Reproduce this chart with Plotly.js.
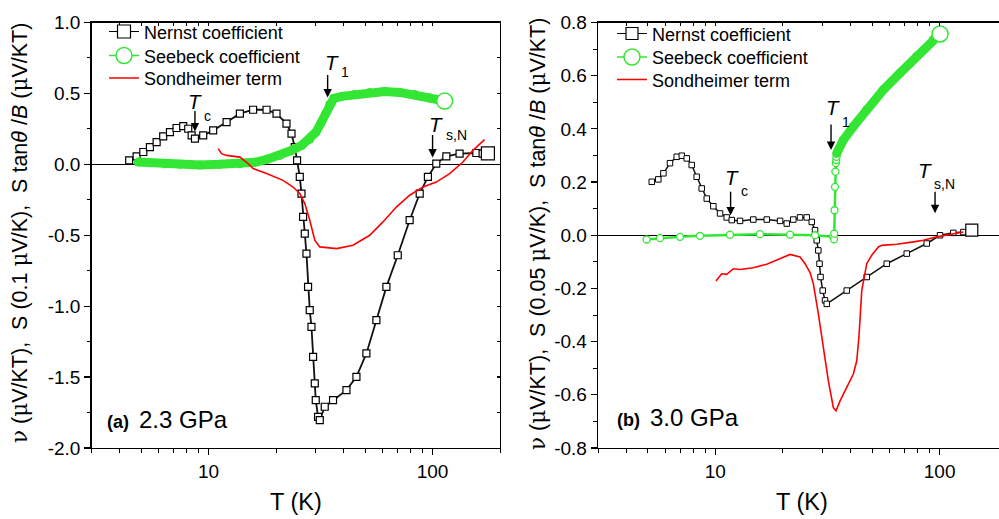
<!DOCTYPE html>
<html>
<head>
<meta charset="utf-8">
<script src="https://cdn.plot.ly/plotly-3.0.1.min.js"></script>
<style>html,body{margin:0;padding:0;background:#fff;} #chart{width:999px;height:519px;}</style>
</head>
<body>
<div id="chart"></div>
<script>
// ---------- Panel (a) 2.3 GPa ----------
const nernstA_T = [4.42, 4.77, 5.11, 5.47, 5.86, 6.27, 6.72, 7.19, 7.70, 8.11, 8.40, 8.69, 9.46, 10.48, 12.03, 13.79, 15.80, 18.14, 20.10, 22.27, 23.45, 24.25, 24.83, 25.53, 25.98, 26.41, 26.88, 27.35, 27.80, 28.29, 28.79, 29.27, 29.79, 30.09, 30.81, 31.36, 33.0, 35.94, 41.25, 45.71, 50.65, 56.12, 62.2, 69.9, 79.0, 87.6, 95.3, 103.9, 115.2, 132.0, 156.8, 167.2, 176.6];
const nernstA_v = [0.028, 0.056, 0.087, 0.122, 0.157, 0.197, 0.227, 0.256, 0.27, 0.251, 0.204, 0.181, 0.204, 0.239, 0.298, 0.357, 0.385, 0.385, 0.357, 0.287, 0.216, 0.122, 0.028, -0.089, -0.206, -0.371, -0.488, -0.629, -0.864, -1.028, -1.146, -1.357, -1.544, -1.662, -1.78, -1.803, -1.709, -1.662, -1.592, -1.498, -1.333, -1.099, -0.864, -0.641, -0.394, -0.206, -0.089, 0.005, 0.056, 0.075, 0.08, 0.075, 0.077];

const seebeckA_T = [4.85, 5.47, 6.38, 7.44, 9.14, 11.22, 13.79, 16.08, 18.19, 20.79, 23.52, 26.06, 28.29, 30.09, 31.67, 33.34, 34.74, 36.2, 39.29, 44.92, 52.4, 61.1, 71.3, 83.2, 97.0, 113.2];
const seebeckA_v = [0.016, 0.011, 0.004, 0.0, -0.004, 0.0, 0.004, 0.014, 0.035, 0.063, 0.099, 0.134, 0.176, 0.225, 0.289, 0.359, 0.423, 0.465, 0.479, 0.493, 0.507, 0.514, 0.507, 0.493, 0.468, 0.446];

const sondA_T = [11.03, 11.42, 12.03, 13.79, 15.02, 15.80, 18.14, 21.50, 23.84, 25.53, 26.88, 28.29, 29.79, 31.36, 37.22, 44.14, 52.4, 60.05, 68.9, 79.0, 90.6, 103.9, 119.2, 136.6, 151.4, 170.7];
const sondA_v = [0.111, 0.075, 0.063, 0.051, 0.005, -0.03, -0.065, -0.113, -0.16, -0.206, -0.277, -0.394, -0.535, -0.582, -0.594, -0.57, -0.5, -0.406, -0.301, -0.218, -0.16, -0.125, -0.065, 0.016, 0.099, 0.174];

// ---------- Panel (b) 3.0 GPa ----------
const nernstB_T = [5.21, 5.57, 5.87, 6.28, 6.73, 7.09, 7.46, 7.85, 8.26, 8.70, 9.16, 9.80, 10.50, 11.24, 11.84, 12.89, 14.77, 16.96, 19.44, 20.82, 22.27, 23.86, 25.56, 26.91, 27.83, 28.32, 28.79, 29.15, 29.45, 30.12, 30.84, 31.39, 38.54, 47.32, 58.10, 71.35, 87.6, 100.4, 115.1, 127.6, 139.1];
const nernstB_v = [0.201, 0.21, 0.233, 0.271, 0.295, 0.299, 0.289, 0.264, 0.22, 0.176, 0.138, 0.109, 0.082, 0.067, 0.057, 0.054, 0.059, 0.059, 0.054, 0.044, 0.059, 0.067, 0.067, 0.05, 0.019, -0.019, -0.057, -0.107, -0.157, -0.208, -0.245, -0.258, -0.208, -0.157, -0.107, -0.069, -0.031, 0.0, 0.009, 0.012, 0.019];

const seebeckB_T = [4.94, 5.67, 6.96, 8.55, 11.63, 15.82, 21.53, 27.83, 33.48, 33.82, 33.9, 34.0, 34.17, 34.3, 34.45, 34.6, 34.71, 34.78, 37.21, 41.24, 47.32, 56.11, 66.6, 79.1, 93.8, 100.4];
const seebeckB_v = [-0.016, -0.011, -0.006, -0.002, 0.002, 0.004, 0.002, 0.0, -0.006, -0.015, 0.006, 0.094, 0.182, 0.239, 0.271, 0.283, 0.295, 0.308, 0.358, 0.409, 0.472, 0.547, 0.61, 0.673, 0.736, 0.757];

const sondB_T = [10.07, 10.68, 11.24, 12.03, 12.89, 14.77, 16.96, 18.79, 21.53, 23.86, 25.12, 26.44, 27.35, 28.79, 30.31, 31.9, 33.58, 34.53, 35.98, 38.54, 41.24, 42.71, 43.72, 44.96, 47.32, 49.81, 53.33, 55.2, 64.4, 76.4, 84.6, 97.1, 115.1, 127.6];
const sondB_v = [-0.172, -0.145, -0.147, -0.126, -0.129, -0.122, -0.109, -0.094, -0.072, -0.082, -0.107, -0.14, -0.182, -0.295, -0.422, -0.547, -0.648, -0.66, -0.623, -0.572, -0.522, -0.472, -0.377, -0.208, -0.107, -0.075, -0.044, -0.038, -0.034, -0.025, -0.019, -0.006, 0.006, 0.012];

// Labels
const seriesNames = ['Nernst coefficient', 'Seebeck coefficient', 'Sondheimer term'];
const xTickVals = [10, 100];
const xMinorVals = [3, 4, 5, 6, 7, 8, 9, 20, 30, 40, 50, 60, 70, 80, 90, 200];
const yTicksA = [-2.0, -1.5, -1.0, -0.5, 0.0, 0.5, 1.0];
const yTicksB = [-0.8, -0.6, -0.4, -0.2, 0.0, 0.2, 0.4, 0.6, 0.8];
const markersA = [ // [label, subscript, T, value]
  ['T', 'c', 8.69, 0.232], ['T', '1', 34.0, 0.472], ['T', 's,N', 100, 0.049]
];
const markersB = [
  ['T', 'c', 11.7, 0.075], ['T', '1', 32.8, 0.321], ['T', 's,N', 95.4, 0.083]
];

const BLACK = '#000000', GREEN = '#33e633', RED = '#ff0000';
const FONT = 'Arial, "Liberation Sans", sans-serif';
const last = a => [a[a.length - 1]];

// split index for panel b Seebeck (jump at T1)
const kB = seebeckB_T.findIndex(t => t >= 34.78);

// one legend per entry so that the rows sit exactly as in the figure
const legA = ['legend', 'legend3', 'legend4'];
const legB = ['legend2', 'legend5', 'legend6'];

const traces = [
  // panel a
  {x: nernstA_T, y: nernstA_v, xaxis: 'x', yaxis: 'y', mode: 'lines+markers', showlegend: false,
   line: {color: '#111', width: 1.8}, marker: {symbol: 'square', size: 7, color: '#fff', line: {color: BLACK, width: 1.2}}},
  {x: seebeckA_T, y: seebeckA_v, xaxis: 'x', yaxis: 'y', mode: 'lines+markers', showlegend: false,
   line: {color: GREEN, width: 9}, marker: {symbol: 'circle', size: 9, color: GREEN}},
  {x: sondA_T, y: sondA_v, xaxis: 'x', yaxis: 'y', mode: 'lines', name: seriesNames[2], legend: legA[2],
   line: {color: RED, width: 1.6}},
  {x: last(nernstA_T), y: last(nernstA_v), xaxis: 'x', yaxis: 'y', mode: 'lines+markers', name: seriesNames[0], legend: legA[0],
   line: {color: BLACK, width: 1.2}, marker: {symbol: 'square', size: 13, color: '#fff', line: {color: BLACK, width: 1.2}}},
  {x: last(seebeckA_T), y: last(seebeckA_v), xaxis: 'x', yaxis: 'y', mode: 'lines+markers', name: seriesNames[1], legend: legA[1],
   line: {color: GREEN, width: 1.5}, marker: {symbol: 'circle', size: 16, color: '#fff', line: {color: GREEN, width: 1.5}}},
  // panel b
  {x: nernstB_T, y: nernstB_v, xaxis: 'x2', yaxis: 'y2', mode: 'lines+markers', showlegend: false,
   line: {color: '#111', width: 1.5}, marker: {symbol: 'square', size: 5.5, color: '#fff', line: {color: BLACK, width: 1}}},
  {x: seebeckB_T.slice(0, kB + 1), y: seebeckB_v.slice(0, kB + 1), xaxis: 'x2', yaxis: 'y2', mode: 'lines+markers', showlegend: false,
   line: {color: GREEN, width: 2.5}, marker: {symbol: 'circle', size: 7, color: '#fff', line: {color: GREEN, width: 1.3}}},
  {x: seebeckB_T.slice(kB), y: seebeckB_v.slice(kB), xaxis: 'x2', yaxis: 'y2', mode: 'lines+markers', showlegend: false,
   line: {color: GREEN, width: 9}, marker: {symbol: 'circle', size: 9, color: GREEN}},
  {x: sondB_T, y: sondB_v, xaxis: 'x2', yaxis: 'y2', mode: 'lines', name: seriesNames[2], legend: legB[2],
   line: {color: RED, width: 1.6}},
  {x: last(nernstB_T), y: last(nernstB_v), xaxis: 'x2', yaxis: 'y2', mode: 'lines+markers', name: seriesNames[0], legend: legB[0],
   line: {color: BLACK, width: 1.2}, marker: {symbol: 'square', size: 12, color: '#fff', line: {color: BLACK, width: 1.2}}},
  {x: last(seebeckB_T), y: last(seebeckB_v), xaxis: 'x2', yaxis: 'y2', mode: 'lines+markers', name: seriesNames[1], legend: legB[1],
   line: {color: GREEN, width: 1.5}, marker: {symbol: 'circle', size: 16, color: '#fff', line: {color: GREEN, width: 1.5}}},
  // helper traces for mirrored (inward) tick axes
  {x: [], y: [], xaxis: 'x3', yaxis: 'y', showlegend: false, hoverinfo: 'skip'},
  {x: [], y: [], xaxis: 'x', yaxis: 'y3', showlegend: false, hoverinfo: 'skip'},
  {x: [], y: [], xaxis: 'x4', yaxis: 'y2', showlegend: false, hoverinfo: 'skip'}
];

const W = 999, H = 519;
const xDomA = [91.5 / W, 500 / W];
const xDomB = [598 / W, 1];
const yDom = [1 - 448 / H, 1 - 22.5 / H];
const xRangeA = [Math.log10(3), Math.log10(200)];
const xRangeB = [Math.log10(3), 2.2646];

function xAxis(domain, range, anchor, extra) {
  return Object.assign({
    type: 'log', domain: domain, range: range, anchor: anchor, autorange: false,
    showline: true, linecolor: BLACK, linewidth: 1.3, ticks: 'outside', ticklen: 6, tickwidth: 1.2, tickcolor: BLACK,
    tickvals: xTickVals, ticktext: xTickVals.map(String), showgrid: false, zeroline: false,
    tickfont: {family: FONT, size: 19, color: BLACK},
    minor: {tickvals: xMinorVals, ticks: 'outside', ticklen: 3.5, tickwidth: 1, tickcolor: BLACK, showgrid: false}
  }, extra || {});
}
function yAxis(range, ticks, minorStep, anchor, extra) {
  const minor = [];
  for (let v = range[0]; v <= range[1] + 1e-9; v += minorStep) minor.push(+v.toFixed(3));
  return Object.assign({
    domain: yDom, range: range, anchor: anchor, autorange: false,
    showline: true, linecolor: BLACK, linewidth: 1.3, ticks: 'outside', ticklen: 6, tickwidth: 1.2, tickcolor: BLACK,
    tickvals: ticks, ticktext: ticks.map(v => v.toFixed(1)), showgrid: false,
    zeroline: true, zerolinecolor: BLACK, zerolinewidth: 1.3,
    tickfont: {family: FONT, size: 19, color: BLACK},
    minor: {tickvals: minor, ticks: 'outside', ticklen: 3.5, tickwidth: 1, tickcolor: BLACK, showgrid: false}
  }, extra || {});
}

const mirrorX = {side: 'top', ticks: 'inside', showticklabels: false, ticklen: 3.5, minor: {tickvals: xMinorVals, ticks: 'inside', ticklen: 3.5, tickwidth: 1, tickcolor: BLACK}};

function legendAt(xPx, rowCenterPx) {
  const fs = 18;
  const top = rowCenterPx - (fs * 1.3 + 3) / 2 - 6.5;
  return {x: xPx / W, y: 1 - top / H, xanchor: 'left', yanchor: 'top',
    bgcolor: 'rgba(0,0,0,0)', borderwidth: 0, font: {family: FONT, size: fs, color: BLACK}, itemsizing: 'trace'};
}

const layout = {
  width: W, height: H, margin: {l: 0, r: 0, t: 0, b: 0},
  paper_bgcolor: '#fff', plot_bgcolor: 'rgba(0,0,0,0)',
  font: {family: FONT, color: BLACK},
  xaxis: xAxis(xDomA, xRangeA, 'y'),
  yaxis: yAxis([-2, 1], yTicksA, 0.25, 'x'),
  xaxis2: xAxis(xDomB, xRangeB, 'y2'),
  yaxis2: yAxis([-0.8, 0.8], yTicksB, 0.1, 'x2'),
  xaxis3: xAxis(xDomA, xRangeA, 'y', Object.assign({overlaying: 'x'}, mirrorX)),
  xaxis4: xAxis(xDomB, xRangeB, 'y2', Object.assign({overlaying: 'x2'}, mirrorX)),
  yaxis3: yAxis([-2, 1], yTicksA, 0.25, 'x', {overlaying: 'y', side: 'right', ticks: 'inside', ticklen: 3.5, showticklabels: false, zeroline: false,
    minor: {tickvals: [-1.75, -1.25, -0.75, -0.25, 0.25, 0.75], ticks: 'inside', ticklen: 3.5, tickwidth: 1, tickcolor: BLACK}}),
  showlegend: true,
  legend: legendAt(104, 33),
  legend3: legendAt(104, 57),
  legend4: legendAt(104, 79.5),
  legend2: legendAt(612, 35),
  legend5: legendAt(612, 58.5),
  legend6: legendAt(612, 81),
  annotations: []
};

const ann = layout.annotations;
// axis titles
const SERIF = s => '<span style="font-family:\'DejaVu Serif\'">' + s + '</span>';
const yTitleA = SERIF('ν') + ' (' + SERIF('μ') + 'V/KT),  S (0.1 ' + SERIF('μ') + 'V/K),  S tan<i>θ</i> /<i>B</i> (' + SERIF('μ') + 'V/KT)';
const yTitleB = SERIF('ν') + ' (' + SERIF('μ') + 'V/KT),  S (0.05 ' + SERIF('μ') + 'V/K),  S tan<i>θ</i> /<i>B</i> (' + SERIF('μ') + 'V/KT)';
ann.push({xref: 'paper', yref: 'paper', x: 19 / W, y: 1 - 233 / H, text: yTitleA, textangle: -90, showarrow: false,
  xanchor: 'center', yanchor: 'middle', font: {family: FONT, size: 21.5, color: BLACK}});
ann.push({xref: 'paper', yref: 'paper', x: 537 / W, y: 1 - 234 / H, text: yTitleB, textangle: -90, showarrow: false,
  xanchor: 'center', yanchor: 'middle', font: {family: FONT, size: 21.5, color: BLACK}});
ann.push({xref: 'paper', yref: 'paper', x: 296 / W, y: 1 - 502 / H, text: 'T (K)', showarrow: false,
  xanchor: 'center', yanchor: 'middle', font: {family: FONT, size: 23.5, color: BLACK}});
ann.push({xref: 'paper', yref: 'paper', x: 802 / W, y: 1 - 502 / H, text: 'T (K)', showarrow: false,
  xanchor: 'center', yanchor: 'middle', font: {family: FONT, size: 23.5, color: BLACK}});
// panel labels
ann.push({xref: 'paper', yref: 'paper', x: 105 / W, y: 1 - 419 / H, xanchor: 'left', yanchor: 'middle', showarrow: false,
  text: '<b>(a)</b>  <span style="font-size:24px">2.3 GPa</span>', font: {family: FONT, size: 18, color: BLACK}});
ann.push({xref: 'paper', yref: 'paper', x: 615 / W, y: 1 - 417 / H, xanchor: 'left', yanchor: 'middle', showarrow: false,
  text: '<b>(b)</b>  <span style="font-size:24px">3.0 GPa</span>', font: {family: FONT, size: 18, color: BLACK}});

// transition markers: [arrow tail offset, T centre offset (dx, up), subscript left edge dx, subscript centre up]
const offA = [[-22, [0, 30], 7.5, 15.5], [-24, [4.5, 34.5], 11.5, 25], [-24, [3.5, 32.5], 11, 22]];
const offB = [[-25, [1, 38], 8.5, 24.2], [-27, [1.5, 42.5], 8.5, 28.3], [-23, [-10, 43], -3, 29.5]];
function addMarkers(list, offs, xr, yr) {
  list.forEach((m, i) => {
    const o = offs[i];
    const X = Math.log10(m[2]), Y = m[3];
    ann.push({xref: xr, yref: yr, x: X, y: Y, ax: 0, ay: o[0], text: '', showarrow: true,
      arrowhead: 2, arrowsize: 1.2, arrowwidth: 1.4, arrowcolor: BLACK, standoff: 0});
    ann.push({xref: xr, yref: yr, x: X, y: Y, xshift: o[1][0], yshift: o[1][1], text: '<i>' + m[0] + '</i>', showarrow: false,
      xanchor: 'center', yanchor: 'middle', font: {family: FONT, size: 20.5, color: BLACK}});
    ann.push({xref: xr, yref: yr, x: X, y: Y, xshift: o[2], yshift: o[3], text: m[1], showarrow: false,
      xanchor: 'left', yanchor: 'middle', font: {family: FONT, size: 14, color: BLACK}});
  });
}
addMarkers(markersA, offA, 'x', 'y');
addMarkers(markersB, offB, 'x2', 'y2');

Plotly.newPlot('chart', traces, layout, {displayModeBar: false, staticPlot: true});
</script>
</body>
</html>
